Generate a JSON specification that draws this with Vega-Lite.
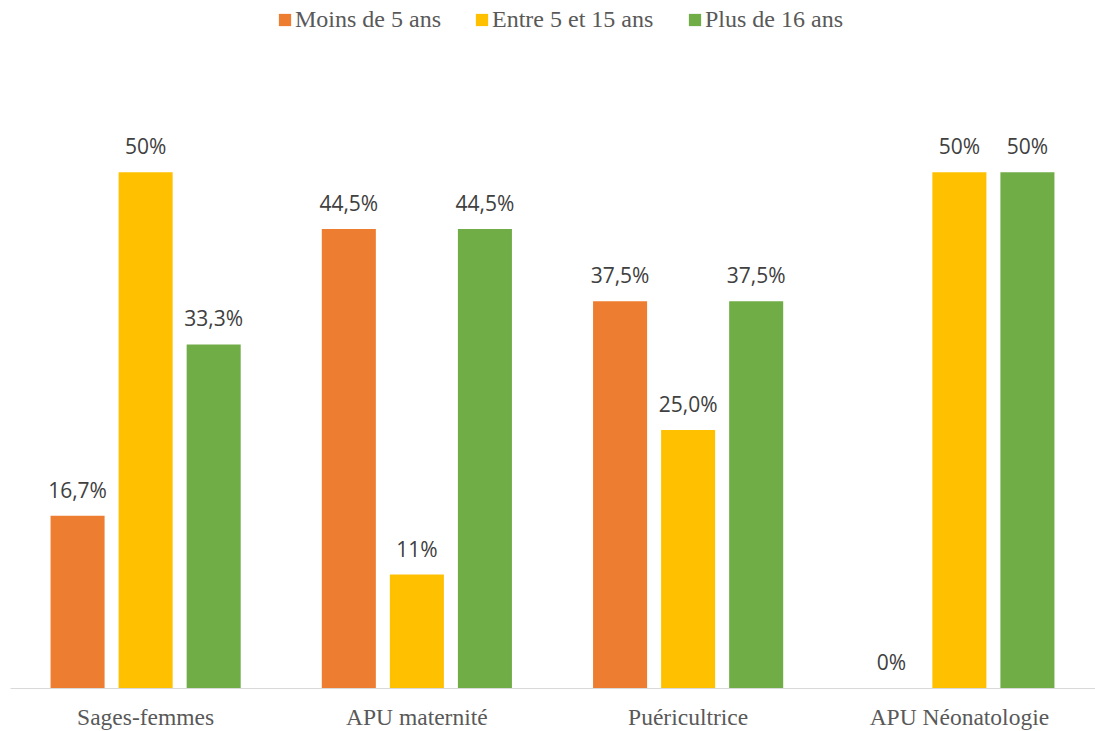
{
  "$schema": "https://vega.github.io/schema/vega-lite/v6.json",
  "autosize": {"type": "none"},
  "width": 1085,
  "height": 619,
  "padding": {"left": 10, "top": 69, "right": 0, "bottom": 43},
  "background": "white",
  "config": {"view": {"stroke": null}},
  "data": {
    "values": [
      {"cat": "Sages-femmes", "serie": "Moins de 5 ans", "value": 16.7, "label": "16,7%"},
      {"cat": "Sages-femmes", "serie": "Entre 5 et 15 ans", "value": 50, "label": "50%"},
      {"cat": "Sages-femmes", "serie": "Plus de 16 ans", "value": 33.3, "label": "33,3%"},
      {"cat": "APU maternité", "serie": "Moins de 5 ans", "value": 44.5, "label": "44,5%"},
      {"cat": "APU maternité", "serie": "Entre 5 et 15 ans", "value": 11, "label": "11%"},
      {"cat": "APU maternité", "serie": "Plus de 16 ans", "value": 44.5, "label": "44,5%"},
      {"cat": "Puéricultrice", "serie": "Moins de 5 ans", "value": 37.5, "label": "37,5%"},
      {"cat": "Puéricultrice", "serie": "Entre 5 et 15 ans", "value": 25, "label": "25,0%"},
      {"cat": "Puéricultrice", "serie": "Plus de 16 ans", "value": 37.5, "label": "37,5%"},
      {"cat": "APU Néonatologie", "serie": "Moins de 5 ans", "value": 0, "label": "0%"},
      {"cat": "APU Néonatologie", "serie": "Entre 5 et 15 ans", "value": 50, "label": "50%"},
      {"cat": "APU Néonatologie", "serie": "Plus de 16 ans", "value": 50, "label": "50%"}
    ]
  },
  "encoding": {
    "x": {
      "field": "cat",
      "type": "nominal",
      "sort": ["Sages-femmes", "APU maternité", "Puéricultrice", "APU Néonatologie"],
      "scale": {"paddingInner": 0, "paddingOuter": 0},
      "axis": {
        "title": null,
        "labelAngle": 0,
        "ticks": false,
        "domainColor": "#d9d9d9",
        "domainWidth": 1,
        "labelFont": "Liberation Serif",
        "labelFontSize": 23.5,
        "labelColor": "#595959",
        "labelPadding": 17,
        "labelLimit": 300
      }
    },
    "xOffset": {
      "field": "serie",
      "type": "nominal",
      "sort": ["Moins de 5 ans", "Entre 5 et 15 ans", "Plus de 16 ans"],
      "scale": {"paddingInner": 0.206, "paddingOuter": 0.596}
    },
    "y": {
      "field": "value",
      "type": "quantitative",
      "scale": {"domain": [0, 60], "nice": false},
      "axis": null
    }
  },
  "layer": [
    {
      "mark": {"type": "bar"},
      "encoding": {
        "color": {
          "field": "serie",
          "type": "nominal",
          "sort": ["Moins de 5 ans", "Entre 5 et 15 ans", "Plus de 16 ans"],
          "scale": {
            "domain": ["Moins de 5 ans", "Entre 5 et 15 ans", "Plus de 16 ans"],
            "range": ["#ED7D31", "#FFC000", "#70AD47"]
          },
          "legend": {
            "title": null,
            "orient": "none",
            "direction": "horizontal",
            "legendX": 263,
            "legendY": -61,
            "symbolType": "square",
            "symbolSize": 150,
            "symbolStrokeWidth": 0,
            "labelFont": "Liberation Serif",
            "labelFontSize": 24,
            "labelColor": "#595959",
            "labelOffset": -2,
            "labelLimit": 300,
            "columnPadding": 29
          }
        }
      }
    },
    {
      "mark": {
        "type": "text",
        "baseline": "alphabetic",
        "dy": -18,
        "font": "Open Sans",
        "fontSize": 21,
        "color": "#404040"
      },
      "encoding": {
        "text": {"field": "label"}
      }
    }
  ]
}
